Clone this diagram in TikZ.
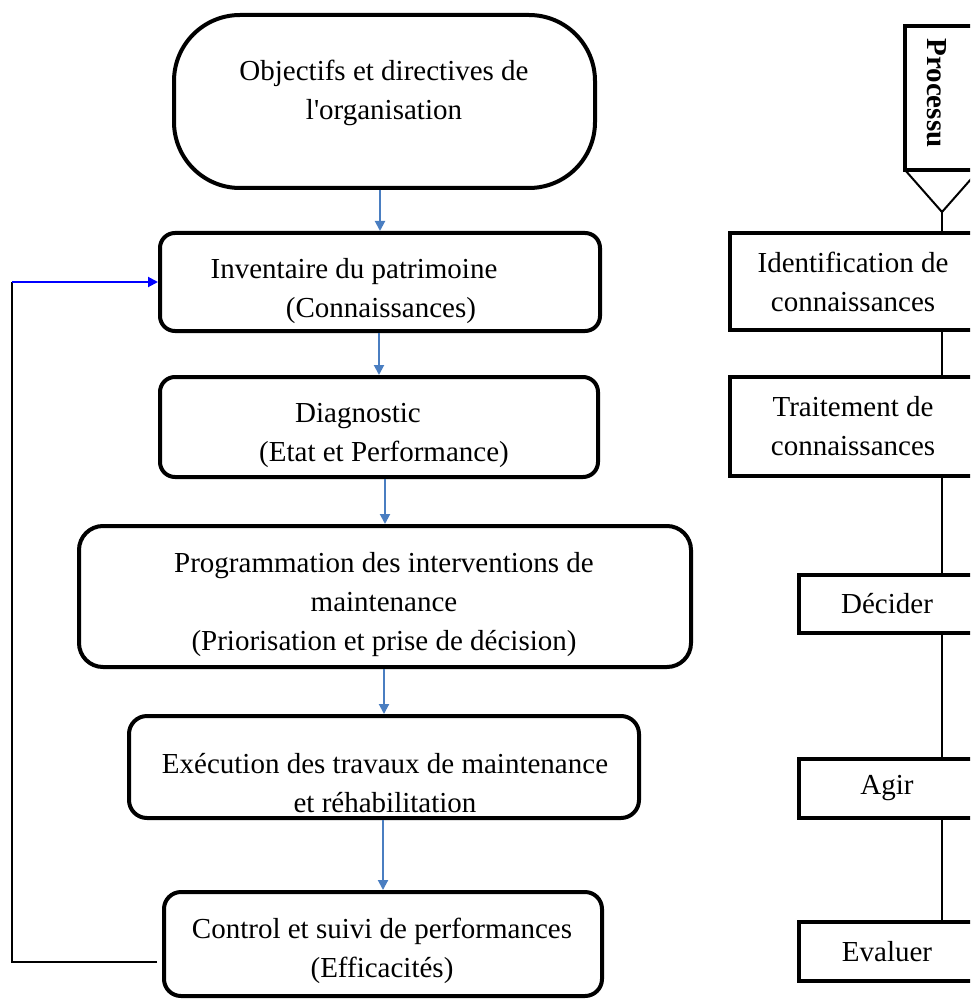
\documentclass[tikz,border=0pt]{standalone}
\usepackage{fontspec}
\setmainfont{Liberation Serif}
\usetikzlibrary{arrows.meta,calc}
\definecolor{flowblue}{RGB}{74,126,193}
\definecolor{loopblue}{RGB}{0,0,255}
\begin{document}
\begin{tikzpicture}[x=1pt,y=-1pt,
  lbox/.style={draw, line width=4pt, inner sep=0pt},
  rbox/.style={draw, line width=4pt, inner sep=0pt, outer sep=0pt,
    font=\fontsize{29}{39}\selectfont, align=center},
  txt/.style={font=\fontsize{29}{39}\selectfont, align=center, inner sep=0pt},
  flow/.style={draw=flowblue, line width=2pt, -{Triangle[width=10pt,length=10pt]}},
  joinline/.style={line width=1.8pt},
  loopline/.style={line width=1.8pt},
  looparrow/.style={draw=loopblue, line width=2pt, -{Triangle[width=10pt,length=10pt]}},
]
\useasboundingbox (0,0) rectangle (970,1000);
\clip (0,0) rectangle (970,1000);

% ---- management cycle (left column) ----
\node[lbox, minimum width=421pt, minimum height=173pt, rounded corners=66pt] (obj) at (384.5,101.5) {};
\node[lbox, minimum width=440pt, minimum height=98pt, rounded corners=15pt] (inv) at (380,282) {};
\node[lbox, minimum width=438pt, minimum height=100pt, rounded corners=15pt] (diag) at (379,427) {};
\node[lbox, minimum width=612pt, minimum height=141pt, rounded corners=24pt] (prog) at (385,596.5) {};
\node[lbox, minimum width=510pt, minimum height=102pt, rounded corners=18pt] (exe) at (384,767) {};
\node[lbox, minimum width=438pt, minimum height=104pt, rounded corners=17pt] (ctrl) at (383,944) {};

\node[txt] (objT) at (384,93) {Objectifs et directives de\\l\textquotesingle organisation};
\node[txt] (invT) at (381,291) {Inventaire du patrimoine\hspace*{54pt}\\(Connaissances)};
\node[txt] (diagT) at (384,435) {Diagnostic\hspace*{52pt}\\(Etat et Performance)};
\node[txt] (progT) at (384,605) {Programmation des interventions de\\maintenance\\(Priorisation et prise de décision)};
\node[txt] (exeT) at (385,783) {Exécution des travaux de maintenance\\et réhabilitation};
\node[txt] (ctrlT) at (382,951) {Control et suivi de performances\\(Efficacités)};

\draw[flow] (obj.south -| inv.north) -- (inv.north);
\draw[flow] (inv.south -| diag.north) -- (diag.north);
\draw[flow] (diag.south -| prog.north) -- (prog.north);
\draw[flow] (prog.south -| exe.north) -- (exe.north);
\draw[flow] (exe.south -| ctrl.north) -- (ctrl.north);

% feedback loop back to the inventory
\coordinate (fbA) at (157,962);
\coordinate (fbB) at (12,962);
\coordinate (fbC) at (12,282);
\draw[loopline] (fbA) -- (fbB) -- (fbC);
\draw[looparrow] (fbC) -- (inv.west |- fbC);

% ---- process column (right) ----
\coordinate (spine) at (942,0);
\node[rbox, minimum width=74pt, minimum height=144pt] (proc) at (942,98) {};
\node[font=\bfseries\fontsize{29}{35}\selectfont, rotate=-90, inner sep=0pt] (procT) at (937,93) {Processu};
\coordinate (apex) at (942,212);
\draw[line width=2pt] (proc.south west) -- (apex) -- (proc.south east);

\node[rbox, minimum width=246pt, minimum height=97pt] (ident) at (853,281.5) {Identification de\\connaissances};
\node[rbox, minimum width=246pt, minimum height=99pt] (trait) at (853,426.5) {Traitement de\\connaissances};
\node[rbox, minimum width=176pt, minimum height=58pt] (dec) at (887,604) {Décider};
\node[rbox, minimum width=176pt, minimum height=59pt] (agir) at (887,788.5) {Agir};
\node[rbox, minimum width=176pt, minimum height=59pt] (eval) at (887,951.5) {Evaluer};

\draw[joinline] (apex) -- (ident.north -| spine);
\draw[joinline] (ident.south -| spine) -- (trait.north -| spine);
\draw[joinline] (trait.south -| spine) -- (dec.north -| spine);
\draw[joinline] (dec.south -| spine) -- (agir.north -| spine);
\draw[joinline] (agir.south -| spine) -- (eval.north -| spine);
\end{tikzpicture}
\end{document}
